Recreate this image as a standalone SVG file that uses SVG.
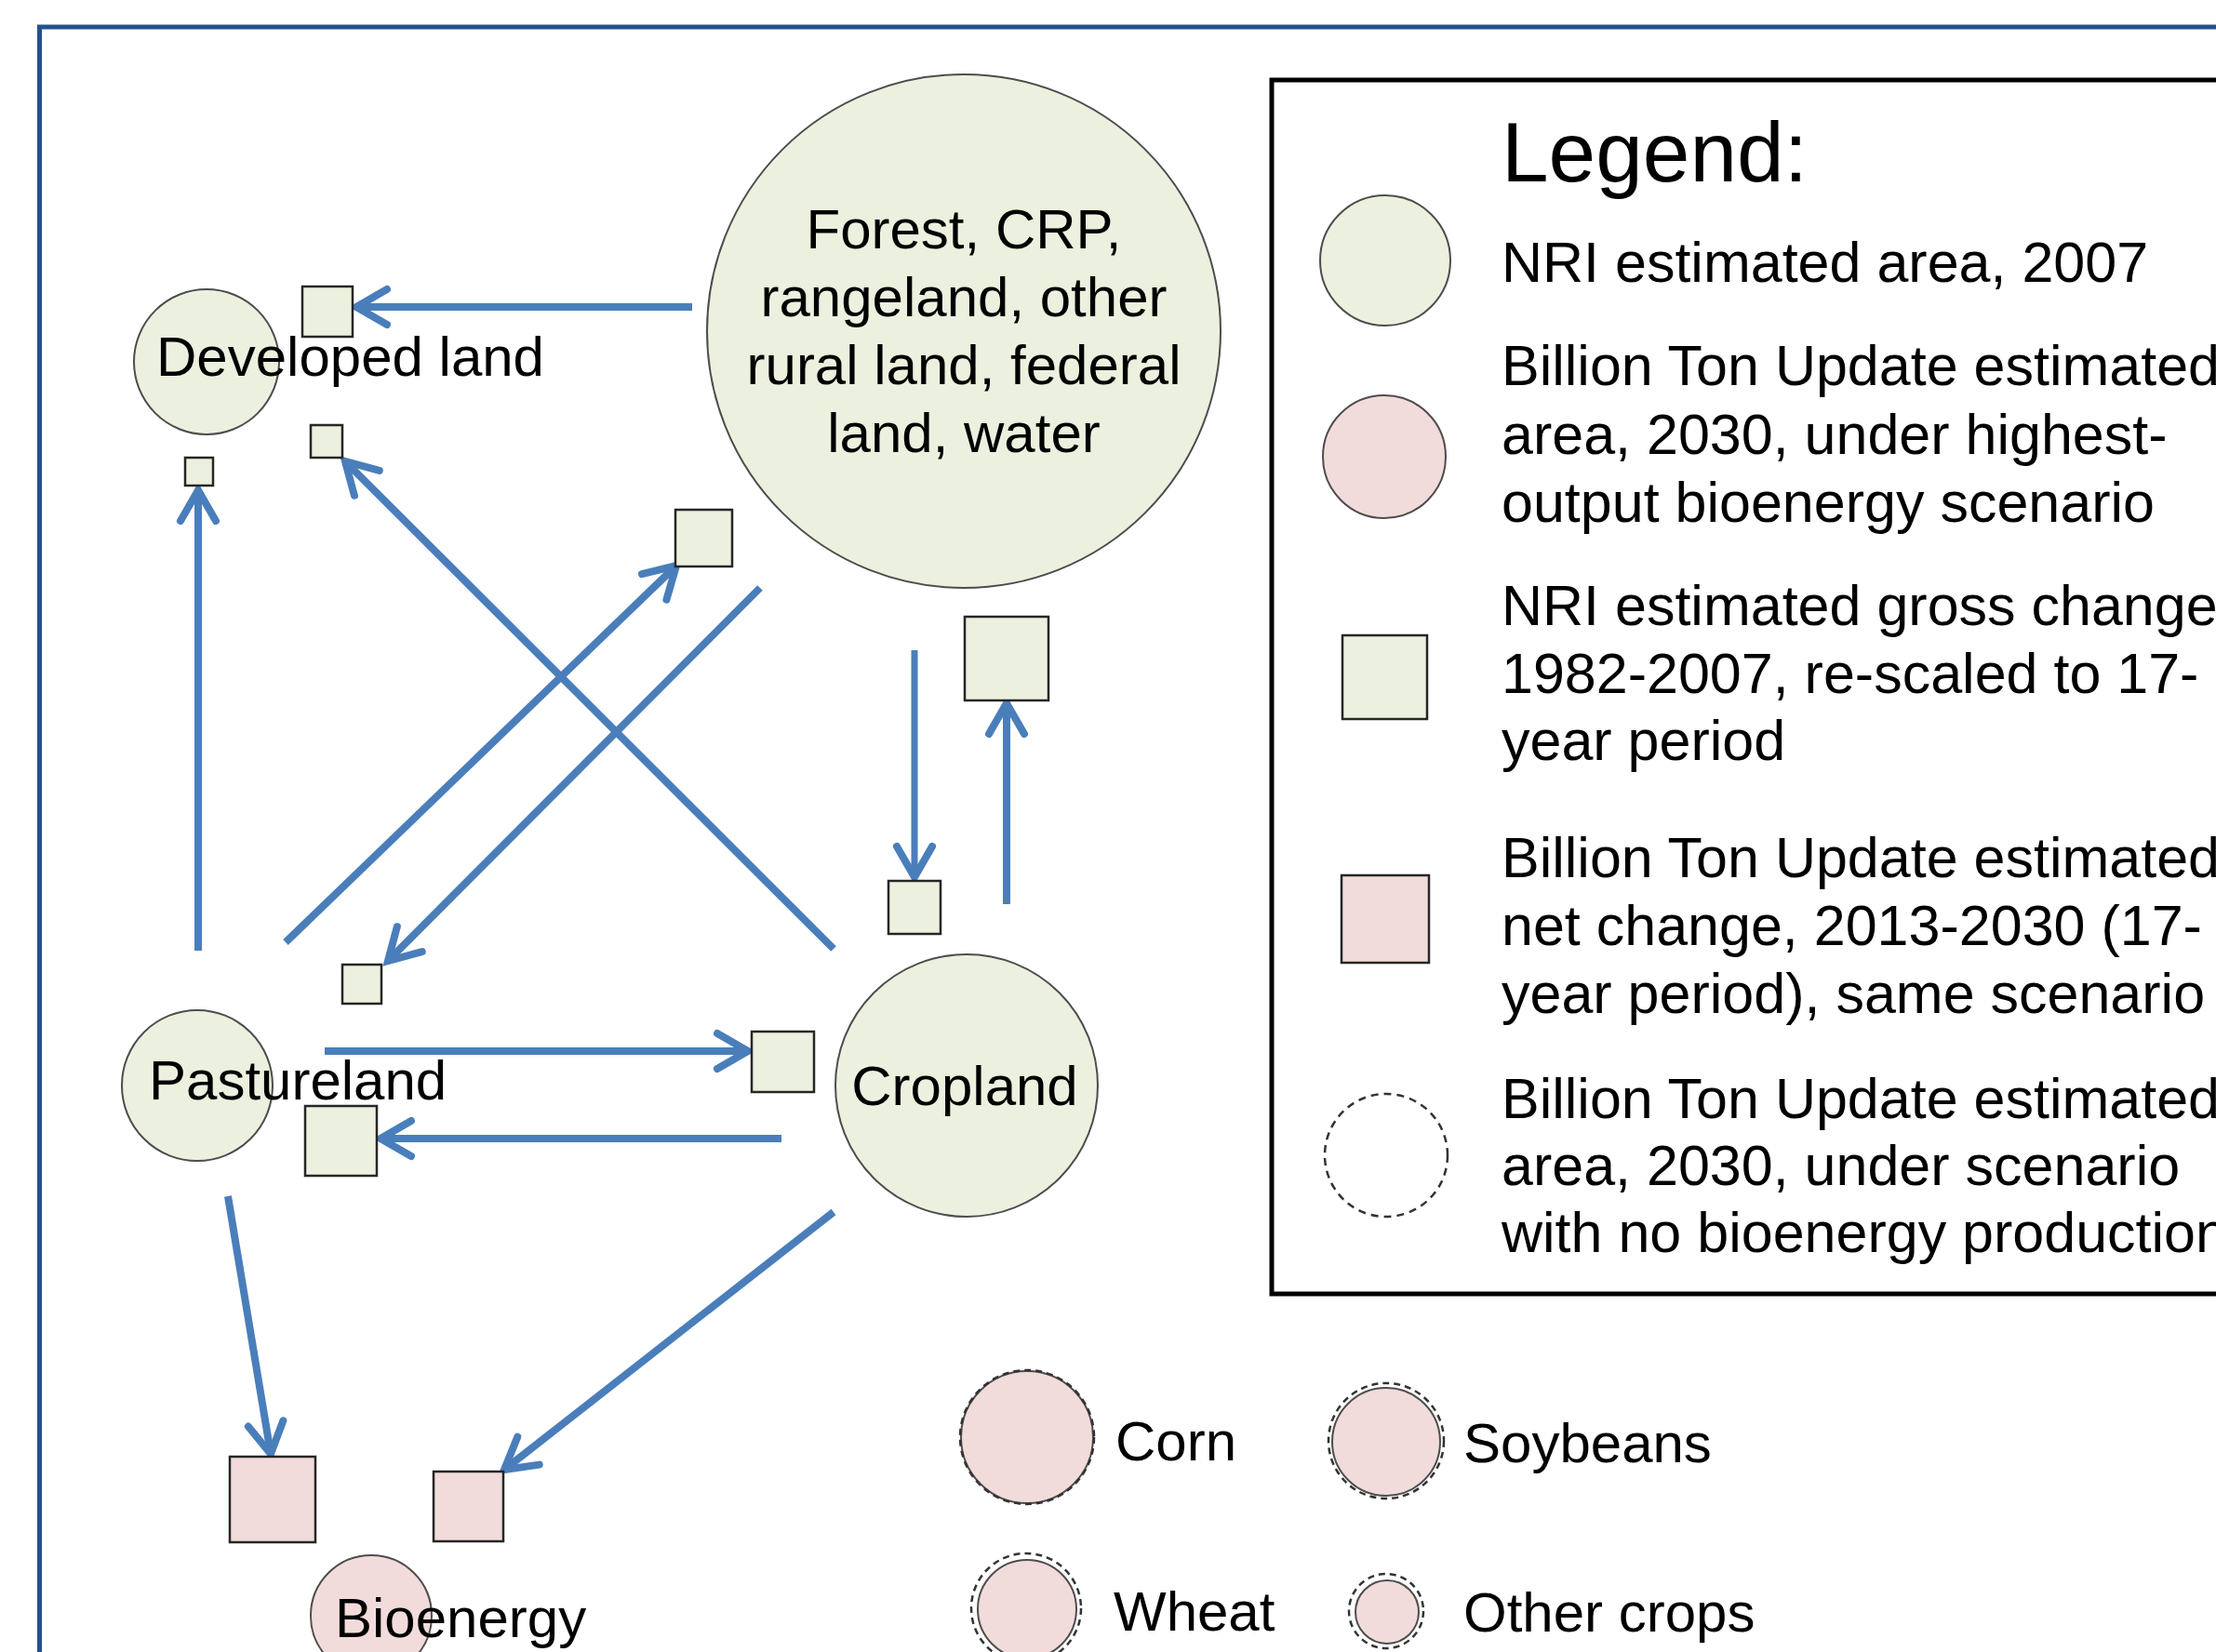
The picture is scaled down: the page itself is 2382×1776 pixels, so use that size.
<svg xmlns="http://www.w3.org/2000/svg" width="2382" height="1776" viewBox="0 0 2382 1776">
<style>
text{font-family:"Liberation Sans",Arial,sans-serif;font-size:60px;fill:#000}
.lt{font-size:61px}
.g{fill:#EBF1DE;stroke:#4d4d4d;stroke-width:2}
.p{fill:#F2DCDB;stroke:#4d4d4d;stroke-width:2}
.sq{fill:#EBF1DE;stroke:#262626;stroke-width:2.5}
.psq{fill:#F2DCDB;stroke:#262626;stroke-width:2.5}
.dash{fill:none;stroke:#333;stroke-width:2.5;stroke-dasharray:7 5}
.a{fill:none;stroke:#4A7EBB;stroke-width:8;marker-end:url(#ah)}
</style>
<defs>
<marker id="ah" markerUnits="userSpaceOnUse" markerWidth="60" markerHeight="60" viewBox="-45 -30 60 60" refX="0" refY="0" orient="auto" overflow="visible">
<path d="M-33,-19 L0,0 L-33,19" fill="none" stroke="#4A7EBB" stroke-width="8" stroke-linecap="round" stroke-linejoin="miter"/>
</marker>
</defs>
<rect x="0" y="0" width="2382" height="1776" fill="#fff"/>
<path d="M42.5,1800 L42.5,29 L2400,29" fill="none" stroke="#24508C" stroke-width="5"/>

<g id="connectors">
<line class="a" x1="744" y1="330" x2="383" y2="330"/>
<line class="a" x1="213" y1="1022" x2="213" y2="527"/>
<line class="a" x1="896" y1="1020" x2="371" y2="496"/>
<line class="a" x1="817" y1="632" x2="417" y2="1033"/>
<line class="a" x1="307" y1="1013" x2="727" y2="608"/>
<line class="a" x1="983" y1="699" x2="983" y2="943" style="stroke-width:7"/>
<line class="a" x1="1082" y1="972" x2="1082" y2="756"/>
<line class="a" x1="349" y1="1130" x2="804" y2="1130"/>
<line class="a" x1="840" y1="1224" x2="409" y2="1224"/>
<line class="a" x1="245" y1="1286" x2="291" y2="1563"/>
<line class="a" x1="896" y1="1303" x2="542" y2="1580"/>
</g>

<g id="developed">
<circle class="g" cx="222" cy="389" r="78"/>
<rect class="sq" x="325" y="308" width="54" height="54"/>
<rect class="sq" x="334" y="457" width="34" height="35"/>
<rect class="sq" x="199" y="492" width="30" height="30"/>
<text x="168" y="404">Developed land</text>
</g>

<g id="forest">
<circle class="g" cx="1036" cy="356" r="276"/>
<text text-anchor="middle" x="1036" y="267">Forest, CRP,</text>
<text text-anchor="middle" x="1036" y="340">rangeland, other</text>
<text text-anchor="middle" x="1036" y="413">rural land, federal</text>
<text text-anchor="middle" x="1036" y="486">land, water</text>
<rect class="sq" x="726" y="548" width="61" height="61"/>
<rect class="sq" x="1037" y="663" width="90" height="90"/>
</g>

<g id="pastureland">
<circle class="g" cx="212" cy="1167" r="81"/>
<rect class="sq" x="368" y="1037" width="42" height="42"/>
<rect class="sq" x="328" y="1189" width="77" height="75"/>
<text x="160" y="1182">Pastureland</text>
</g>

<g id="cropland">
<circle class="g" cx="1039" cy="1167" r="141"/>
<rect class="sq" x="955" y="947" width="56" height="57"/>
<rect class="sq" x="808" y="1109" width="67" height="65"/>
<text text-anchor="middle" x="1037" y="1188">Cropland</text>
</g>

<g id="bioenergy">
<rect class="psq" x="247" y="1566" width="92" height="92"/>
<rect class="psq" x="466" y="1582" width="75" height="75"/>
<circle class="p" cx="399" cy="1737" r="65"/>
<text x="360" y="1760">Bioenergy</text>
</g>

<g id="legend">
<rect x="1367" y="86" width="1100" height="1305" fill="none" stroke="#000" stroke-width="5"/>
<text x="1614" y="195" style="font-size:91px">Legend:</text>
<circle class="g" cx="1489" cy="280" r="70"/>
<text class="lt" x="1614" y="303">NRI estimated area, 2007</text>
<circle class="p" cx="1488" cy="491" r="66"/>
<text class="lt" x="1614" y="414">Billion Ton Update estimated</text>
<text class="lt" x="1614" y="488">area, 2030, under highest-</text>
<text class="lt" x="1614" y="561">output bioenergy scenario</text>
<rect class="sq" x="1443" y="683" width="91" height="90"/>
<text class="lt" x="1614" y="672">NRI estimated gross change</text>
<text class="lt" x="1614" y="745">1982-2007, re-scaled to 17-</text>
<text class="lt" x="1614" y="817">year period</text>
<rect class="psq" x="1442" y="941" width="94" height="94"/>
<text class="lt" x="1614" y="943">Billion Ton Update estimated</text>
<text class="lt" x="1614" y="1016">net change, 2013-2030 (17-</text>
<text class="lt" x="1614" y="1089">year period), same scenario</text>
<circle cx="1490" cy="1242" r="66" fill="none" stroke="#333" stroke-width="2.5" stroke-dasharray="8 6"/>
<text class="lt" x="1614" y="1202">Billion Ton Update estimated</text>
<text class="lt" x="1614" y="1274">area, 2030, under scenario</text>
<text class="lt" x="1614" y="1346">with no bioenergy production</text>
</g>

<g id="corn">
<circle class="p" cx="1104" cy="1545" r="71"/>
<circle class="dash" cx="1104" cy="1545" r="72"/>
<text x="1199" y="1570">Corn</text>
</g>
<g id="soybeans">
<circle class="p" cx="1490" cy="1550" r="58"/>
<circle class="dash" cx="1490" cy="1549" r="62"/>
<text x="1573" y="1572">Soybeans</text>
</g>
<g id="wheat">
<circle class="p" cx="1104" cy="1730" r="53"/>
<circle class="dash" cx="1103" cy="1729" r="59"/>
<text x="1197" y="1753">Wheat</text>
</g>
<g id="othercrops">
<circle class="p" cx="1491" cy="1733" r="34"/>
<circle class="dash" cx="1490" cy="1732" r="40"/>
<text x="1573" y="1754">Other crops</text>
</g>
</svg>
